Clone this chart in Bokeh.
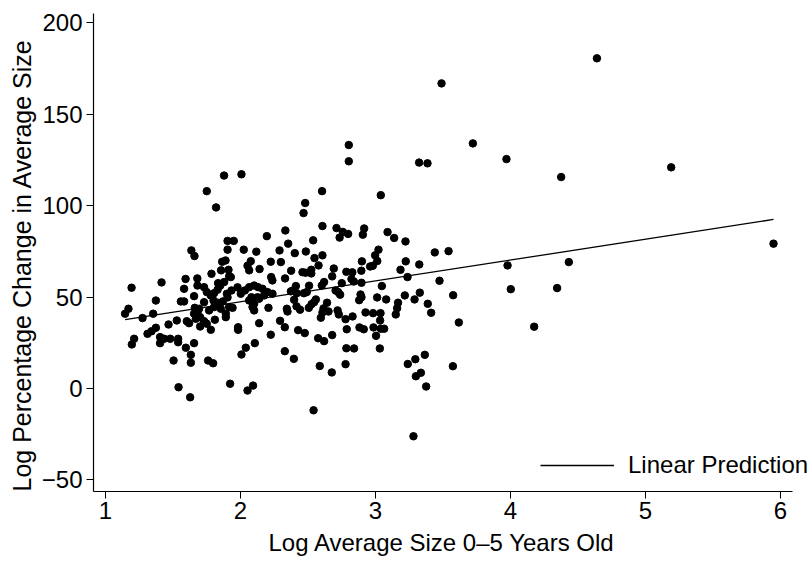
from bokeh.plotting import figure
from bokeh.models import Range1d, FixedTicker, Legend, LegendItem, Title
from bokeh.embed import file_html
from bokeh.resources import INLINE

# Log average size 0-5 years old (x) and log percentage change in average size (y)
x_vals = [
    1.878, 2.007, 1.750, 1.819, 2.195, 1.904, 1.950, 1.904, 2.024, 2.117,
    2.289, 1.636, 1.659, 1.864, 1.889, 1.856, 1.911, 1.785, 2.076, 2.052,
    2.064, 2.141, 2.224, 2.299, 2.227, 2.236, 1.593, 1.680, 1.916, 1.415,
    1.193, 1.582, 1.656, 1.373, 1.558, 1.582, 1.834, 1.879, 1.928, 1.681,
    1.730, 1.750, 1.780, 1.804, 1.830, 1.849, 1.899, 1.904, 1.933, 1.978,
    2.002, 2.032, 2.064, 2.101, 2.130, 2.163, 2.200, 2.237, 2.175, 2.126,
    2.081, 2.064, 2.101, 2.138, 1.730, 1.830, 1.869, 1.661, 1.693, 1.656,
    1.767, 1.804, 1.841, 1.941, 1.854, 1.891, 1.891, 1.170, 1.145, 1.274,
    1.353, 1.373, 1.341, 1.311, 1.467, 1.528, 1.602, 1.619, 1.669, 1.701,
    1.730, 1.701, 1.780, 1.982, 1.982, 2.101, 2.089, 2.207, 2.138, 2.224,
    2.293, 2.343, 2.348, 1.212, 1.195, 1.404, 1.404, 1.434, 1.479, 1.538,
    1.538, 1.656, 1.595, 1.632, 1.632, 1.504, 1.760, 1.797, 2.106, 2.039,
    2.007, 1.541, 1.627, 1.923, 2.093, 2.052, 2.328, 1.800, 1.916, 1.750,
    1.810, 1.681,
    2.479, 2.467, 2.604, 2.332, 2.607, 2.711, 2.758, 2.797, 2.734, 2.916,
    2.906, 3.089, 3.138, 3.222, 2.353, 2.538, 2.402, 2.484, 2.607, 2.548,
    2.578, 3.022, 2.997, 3.013, 2.899, 2.960, 2.980, 2.895, 2.784, 2.828,
    2.691, 2.679, 2.822, 2.839, 2.750, 2.896, 3.224, 3.324, 3.185, 3.237,
    3.439, 3.541, 3.474, 2.375, 2.330, 2.459, 2.481, 2.524, 2.524, 2.619,
    2.602, 2.508, 2.410, 2.390, 2.373, 2.417, 2.469, 2.491, 2.704, 2.723,
    2.738, 3.047, 2.889, 2.896, 2.879, 3.012, 3.079, 3.217, 3.328, 3.289,
    3.167, 3.160, 3.150, 3.387, 3.412, 3.575, 3.617, 2.397, 2.558, 2.545,
    2.526, 2.641, 2.415, 2.441, 2.506, 2.615, 2.607, 2.652, 2.719, 2.728,
    2.595, 2.778, 2.830, 2.926, 2.982, 3.037, 3.034, 2.328, 2.427, 2.476,
    2.787, 2.881, 2.913, 2.985, 3.039, 3.064, 3.004, 2.679, 2.575, 2.619,
    2.784, 2.841, 3.032, 2.395, 2.587, 2.676, 2.778, 2.541, 3.239, 3.295,
    3.365, 3.299, 3.336, 3.375, 3.281, 3.573,
    4.640, 3.489, 3.721, 3.970, 5.190, 4.375, 2.802, 2.802, 3.039, 3.323,
    3.385, 5.948, 3.978, 4.002, 4.175, 4.345, 4.432,
]
y_vals = [
    116.4, 117.1, 107.9, 99.0, 83.3, 80.7, 80.7, 75.9, 75.9, 74.8,
    75.5, 75.5, 72.4, 69.3, 70.0, 64.6, 64.9, 62.7, 69.6, 67.1,
    64.6, 65.3, 69.3, 69.1, 60.9, 59.1, 59.9, 60.2, 61.4, 58.0,
    55.1, 54.5, 50.5, 48.1, 47.6, 47.6, 57.6, 58.2, 60.9, 56.3,
    55.4, 52.7, 50.9, 52.1, 54.0, 56.2, 51.8, 49.8, 53.6, 55.3,
    51.8, 53.6, 55.4, 56.3, 55.4, 54.5, 52.7, 51.8, 50.9, 49.9,
    49.9, 48.1, 46.3, 49.1, 47.2, 46.9, 47.6, 44.1, 43.6, 40.9,
    42.7, 44.5, 45.4, 44.1, 43.6, 40.9, 39.0, 43.6, 40.9, 38.5,
    40.9, 33.2, 31.3, 29.9, 35.0, 37.2, 36.8, 35.7, 38.1, 39.0,
    36.8, 33.9, 32.1, 32.1, 33.5, 42.7, 44.5, 44.1, 35.7, 29.4,
    37.0, 43.6, 42.1, 27.2, 24.1, 24.8, 28.1, 27.2, 27.2, 27.2,
    25.3, 24.8, 22.3, 18.4, 14.1, 15.3, 15.3, 13.8, 24.8, 22.3,
    18.6, 0.7, -4.8, 2.6, 1.6, -1.1, 20.4, 48.1, 44.5, 35.4,
    37.6, 41.7,
    101.4, 95.9, 107.9, 86.4, 88.8, 87.7, 85.6, 84.5, 82.5, 87.5,
    84.1, 85.5, 82.3, 80.4, 79.2, 81.0, 74.0, 74.9, 72.8, 71.3,
    67.3, 75.9, 72.8, 69.7, 69.5, 66.7, 67.1, 64.4, 63.8, 63.5,
    65.6, 61.3, 59.8, 58.5, 57.6, 57.8, 69.5, 67.8, 64.9, 60.9,
    74.4, 75.1, 58.9, 64.4, 60.2, 63.6, 63.3, 64.9, 62.9, 58.2,
    56.3, 56.2, 56.0, 53.6, 53.1, 52.1, 52.1, 52.7, 53.6, 52.7,
    51.3, 56.0, 51.4, 49.9, 48.3, 49.8, 48.7, 50.9, 52.4, 48.7,
    46.9, 43.9, 40.5, 46.3, 41.4, 51.0, 36.1, 48.5, 48.7, 47.2,
    46.1, 46.9, 44.9, 43.1, 44.1, 43.8, 41.6, 42.1, 42.7, 40.5,
    38.7, 37.9, 39.4, 41.6, 41.2, 41.2, 37.2, 33.5, 31.9, 30.3,
    32.4, 33.4, 32.4, 33.4, 32.7, 32.7, 28.8, 29.2, 27.5, 25.9,
    22.0, 21.9, 21.9, 16.2, 12.3, 8.8, 13.3, -11.9, 13.4, 16.0,
    18.4, 6.7, 8.6, 1.1, -26.1, 12.2,
    180.5, 166.8, 134.0, 125.4, 120.9, 115.6, 133.1, 124.2, 105.7, 123.5,
    123.1, 79.2, 67.3, 54.3, 33.8, 54.9, 69.1,
]

# Linear prediction (fitted line) end points
fit_x = [1.145, 5.948]
fit_y = [37.7, 92.4]

x_ticks = [1, 2, 3, 4, 5, 6]
y_ticks = [-50, 0, 50, 100, 150, 200]
y_tick_labels = {-50: "\u221250", 0: "0", 50: "50", 100: "100", 150: "150", 200: "200"}
x_axis_extent = (0.911, 6.089)

FONT = "Liberation Sans"

p = figure(width=810, height=564, output_backend="svg", toolbar_location=None,
           x_range=Range1d(0.911, 6.222), y_range=Range1d(-56.3, 205.0),
           min_border_left=93, min_border_right=0, min_border_top=13, min_border_bottom=73)
p.outline_line_color = None
p.background_fill_color = "white"
p.border_fill_color = "white"
p.xgrid.visible = False
p.ygrid.visible = False

p.scatter(x_vals, y_vals, size=7.5, marker="circle", fill_color="black", line_color="black")
fit = p.line(fit_x, fit_y, line_color="black", line_width=1.3)

for ax in (p.xaxis[0], p.yaxis[0]):
    ax.axis_line_color = "black"
    ax.axis_line_width = 1.2
    ax.major_tick_line_color = "black"
    ax.major_tick_out = 7
    ax.major_tick_in = 0
    ax.minor_tick_line_color = None
    ax.major_label_text_font = FONT
    ax.major_label_text_font_size = "24px"
    ax.major_label_text_color = "black"

p.xaxis.ticker = FixedTicker(ticks=x_ticks)
p.xaxis.bounds = x_axis_extent
p.yaxis.ticker = FixedTicker(ticks=y_ticks)
p.yaxis.major_label_overrides = y_tick_labels
p.xaxis.major_label_standoff = 3
p.yaxis.major_label_standoff = 4

xtitle = Title(text="Log Average Size 0\u20135 Years Old", align="left",
               text_font=FONT, text_font_size="24px", text_font_style="normal",
               text_color="black", offset=175, standoff=10)
p.add_layout(xtitle, "below")

ytitle = Title(text="Log Percentage Change in Average Size", align="left",
               text_font=FONT, text_font_size="25px", text_font_style="normal",
               text_color="black", offset=0, standoff=6)
p.add_layout(ytitle, "left")

legend = Legend(items=[LegendItem(label="Linear Prediction", renderers=[fit])],
                location=(447, 12), orientation="vertical",
                glyph_width=74, glyph_height=28, label_height=28, label_standoff=14,
                padding=0, margin=0, spacing=0,
                label_text_font=FONT, label_text_font_size="24px", label_text_color="black",
                border_line_color=None, background_fill_alpha=0)
p.add_layout(legend)

open("out.html", "w").write(file_html(p, INLINE))
